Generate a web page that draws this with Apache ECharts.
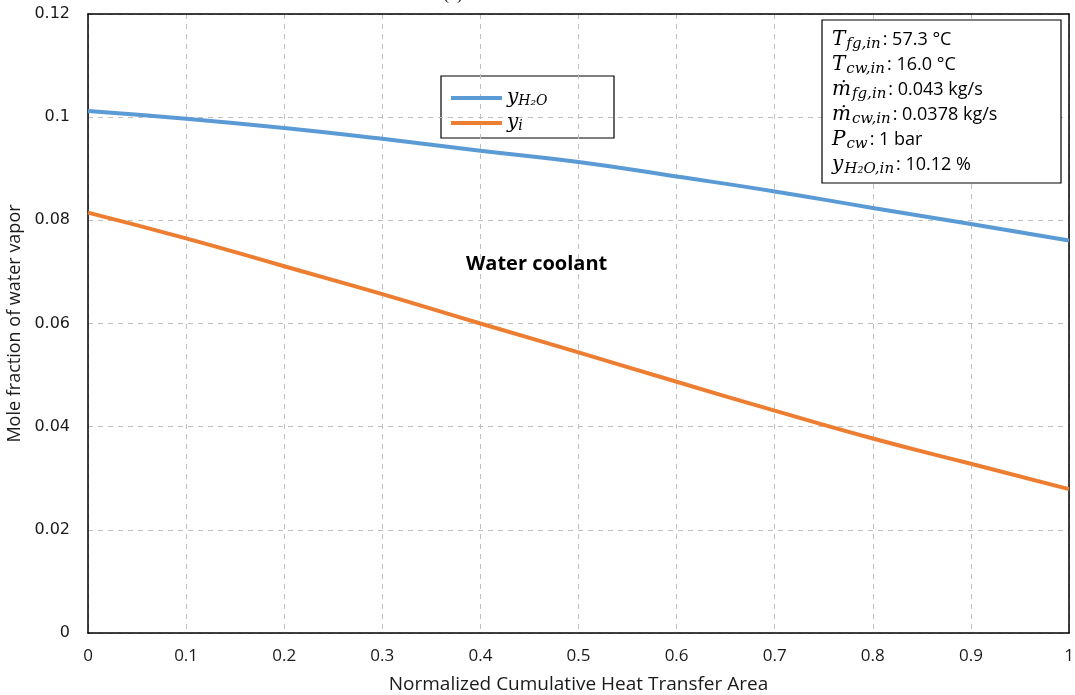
<!DOCTYPE html>
<html><head><meta charset="utf-8">
<script src="https://cdn.jsdelivr.net/npm/echarts@6/dist/echarts.min.js"></script>
<style>html,body{margin:0;padding:0;background:#fff}#c{width:1075px;height:695px}</style>
</head><body><div id="c"></div>
<script>
// Normalized cumulative heat transfer area (x)
const areaX = [0, 0.1, 0.2, 0.3, 0.4, 0.5, 0.6, 0.7, 0.8, 0.9, 1.0];
// Bulk water vapor mole fraction y_H2O
const yH2O = [0.1012, 0.0997, 0.0979, 0.0958, 0.0935, 0.0913, 0.0885, 0.0856, 0.0824, 0.0793, 0.0761];
// Interface mole fraction y_i
const yI = [0.0815, 0.0765, 0.0711, 0.0657, 0.0600, 0.0544, 0.0487, 0.0431, 0.0377, 0.0328, 0.0279];
// Axis ticks
const xTicks = [0, 0.1, 0.2, 0.3, 0.4, 0.5, 0.6, 0.7, 0.8, 0.9, 1];
const yTicks = [0, 0.02, 0.04, 0.06, 0.08, 0.1, 0.12];
// Annotation lines: [symbol, subscript, value]
const notes = [
  ['T', 'fg,in', ': 57.3 °C'],
  ['T', 'cw,in', ': 16.0 °C'],
  ['ṁ', 'fg,in', ': 0.043 kg/s'],
  ['ṁ', 'cw,in', ': 0.0378 kg/s'],
  ['P', 'cw', ': 1 bar'],
  ['y', 'H₂O,in', ': 10.12 %']
];
const seriesNames = ['yH2O', 'yi'];
const legendRich = { yH2O: ['y', 'H₂O'], yi: ['y', 'i'] };

const chart = echarts.init(document.getElementById('c'), null, { renderer: 'canvas' });

const mathRich = {
  it: { fontFamily: 'DejaVu Serif', fontStyle: 'italic', fontSize: 20, color: '#000', lineHeight: 25, verticalAlign: 'middle' },
  sub: { fontFamily: 'DejaVu Serif', fontStyle: 'italic', fontSize: 15, color: '#000', lineHeight: 14, verticalAlign: 'bottom', padding: [0, 2, 0, 1] },
  n: { fontFamily: 'Open Sans', fontSize: 18, color: '#000', lineHeight: 25, verticalAlign: 'middle' }
};

const noteText = notes.map(r => '{it|' + r[0] + '}{sub|' + r[1] + '}{n|' + r[2] + '}').join('\n');

const axisLineStyle = { color: '#000', width: 1.5 };

const option = {
  backgroundColor: '#fff',
  animation: false,
  grid: { left: 88, right: 6, top: 14, bottom: 62, outerBoundsMode: 'none', containLabel: false },
  xAxis: [{
    type: 'value', min: 0, max: 1, interval: 0.1,
    name: 'Normalized Cumulative Heat Transfer Area', nameLocation: 'middle', nameGap: 42,
    nameTextStyle: { fontFamily: 'Open Sans', fontSize: 19, color: '#1a1a1a' },
    axisLine: { show: true, lineStyle: axisLineStyle },
    axisTick: { show: false },
    axisLabel: { fontFamily: 'Open Sans', fontSize: 17, color: '#1a1a1a', margin: 15,
      formatter: v => { const t = xTicks.find(k => Math.abs(k - v) < 1e-9); return t === undefined ? '' : String(t); } },
    splitLine: { show: true, lineStyle: { color: '#bfbfbf', width: 1, type: [5, 5] } }
  }, {
    type: 'value', position: 'top', min: 0, max: 1, interval: 0.1,
    axisLine: { show: true, onZero: false, lineStyle: axisLineStyle },
    axisTick: { show: false }, axisLabel: { show: false }, splitLine: { show: false }
  }],
  yAxis: [{
    type: 'value', min: 0, max: 0.12, interval: 0.02,
    name: 'Mole fraction of water vapor', nameLocation: 'middle', nameGap: 62, nameRotate: 90,
    nameTextStyle: { fontFamily: 'Open Sans', fontSize: 18, color: '#1a1a1a' },
    axisLine: { show: true, lineStyle: axisLineStyle },
    axisTick: { show: false },
    axisLabel: { fontFamily: 'DejaVu Sans', fontSize: 16, color: '#1a1a1a', margin: 18,
      formatter: v => { const t = yTicks.find(k => Math.abs(k - v) < 1e-9); return t === undefined ? '' : String(t); } },
    splitLine: { show: true, lineStyle: { color: '#bfbfbf', width: 1, type: [5, 5] } }
  }, {
    type: 'value', position: 'right', min: 0, max: 0.12, interval: 0.02,
    axisLine: { show: true, onZero: false, lineStyle: axisLineStyle },
    axisTick: { show: false }, axisLabel: { show: false }, splitLine: { show: false }
  }],
  legend: {
    orient: 'vertical', left: 451, top: 88, padding: 0, itemGap: 5,
    itemWidth: 51, itemHeight: 4, icon: 'rect',
    data: seriesNames,
    formatter: name => '{y|' + legendRich[name][0] + '}{s|' + legendRich[name][1] + '}',
    textStyle: {
      lineHeight: 20,
      rich: {
        y: { fontFamily: 'DejaVu Serif', fontStyle: 'italic', fontSize: 20, color: '#000', lineHeight: 20, verticalAlign: 'middle' },
        s: { fontFamily: 'DejaVu Serif', fontStyle: 'italic', fontSize: 14, color: '#000', lineHeight: 13, verticalAlign: 'bottom' }
      }
    }
  },
  graphic: [
    { type: 'rect', z: 0, shape: { x: 441, y: 76, width: 173, height: 62 }, style: { fill: '#fff', stroke: '#000', lineWidth: 1.2 } },
    { type: 'rect', z: 10, shape: { x: 822, y: 20, width: 239, height: 163 }, style: { fill: '#fff', stroke: '#000', lineWidth: 1.2 } },
    { type: 'text', z: 11, x: 832, y: 27, style: { text: noteText, rich: mathRich } },
    { type: 'text', z: 11, x: 466, y: 254, style: { text: 'Water coolant', font: 'bold 20px "Open Sans"', fill: '#000' } },
    { type: 'text', z: 11, x: 443, y: -15, style: { text: '(a)', font: '18px "Liberation Serif"', fill: '#000' } }
  ],
  series: [
    { name: 'yH2O', type: 'line', data: areaX.map((x, i) => [x, yH2O[i]]), smooth: true, showSymbol: false,
      lineStyle: { color: '#5B9BD5', width: 4 }, itemStyle: { color: '#5B9BD5' }, z: 3 },
    { name: 'yi', type: 'line', data: areaX.map((x, i) => [x, yI[i]]), smooth: true, showSymbol: false,
      lineStyle: { color: '#ED7D31', width: 4 }, itemStyle: { color: '#ED7D31' }, z: 3 }
  ]
};
chart.setOption(option);
</script>
</body></html>
